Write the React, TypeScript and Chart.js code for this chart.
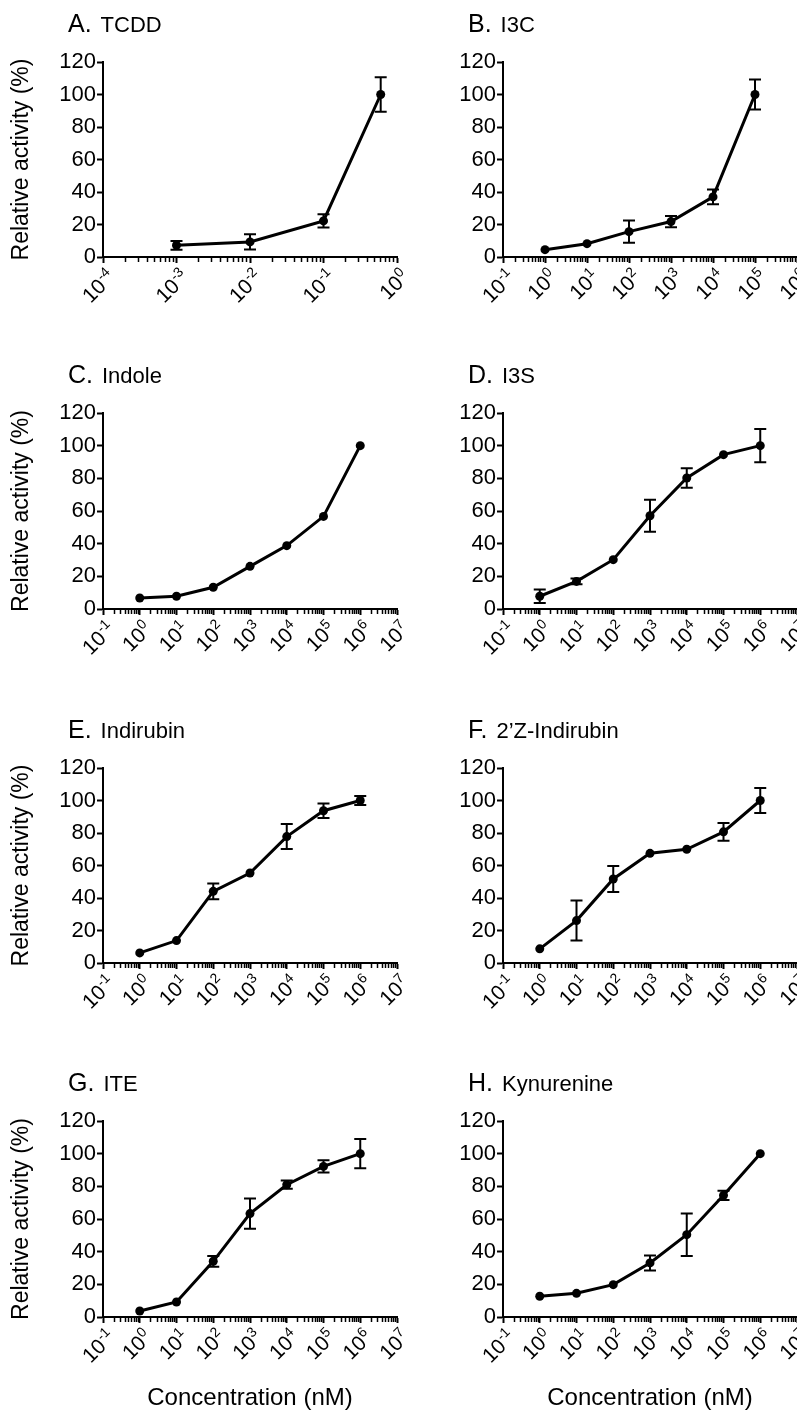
import React, { useEffect, useRef } from "react";
import { Chart, registerables } from "chart.js";

Chart.register(...registerables);

const FONT = '"Liberation Sans", Arial, Helvetica, sans-serif';

// ---------- data ----------
const concTCDD = [0.001, 0.01, 0.1, 0.6];
const valTCDD = [7.2, 9.3, 22.2, 100];
const errTCDD = [2.7, 4.7, 4.1, 10.6];

const concI3C = [1, 10, 100, 1000, 10000, 100000];
const valI3C = [4.5, 8.2, 15.6, 21.8, 37, 100];
const errI3C = [0, 0, 6.8, 3.5, 4.6, 9.2];

const concSeven = [1, 10, 100, 1000, 10000, 100000, 1000000];

const valIndole = [6.7, 7.8, 13.3, 26.1, 38.8, 56.7, 100];
const errIndole = [0, 0, 0, 0, 0, 0, 0];

const valI3S = [7.8, 16.9, 30.2, 57.1, 80.2, 94.5, 100];
const errI3S = [4.1, 1.8, 0, 9.8, 6, 0, 10.2];

const valIndirubin = [6.2, 13.8, 44.1, 55.4, 77.8, 93.7, 100];
const errIndirubin = [0, 0, 4.8, 0, 7.7, 4.5, 2.7];

const valZIndirubin = [8.7, 26.1, 51.7, 67.5, 70, 80.7, 100];
const errZIndirubin = [0, 12.3, 8, 0, 0, 5.5, 7.7];

const valITE = [3.7, 9.2, 34.1, 63.3, 81, 92.2, 100];
const errITE = [0, 0, 3.3, 9.2, 2.5, 3.8, 9];

const valKyn = [12.7, 14.5, 19.8, 33.1, 50.4, 74.5, 100];
const errKyn = [0, 0, 0, 4.6, 13, 2.8, 0];

const rangeTCDD = [1e-4, 1];
const rangeI3C = [1e-1, 1e6];
const rangeWide = [1e-1, 1e7];

const panelLetters = ["A.", "B.", "C.", "D.", "E.", "F.", "G.", "H."];
const panelNames = ["TCDD", "I3C", "Indole", "I3S", "Indirubin", "2\u2019Z-Indirubin", "ITE", "Kynurenine"];

const yMin = 0;
const yMax = 120;
const yStep = 20;
const yTitle = "Relative activity (%)";
const xTitle = "Concentration (nM)";
const xTickBase = "10";

// ---------- layout ----------
const plotTops = [62, 413, 768, 1121];
const plotBottoms = [257, 609, 963, 1317];
const PAGE_H = 1413;
const CANVAS_W = 423;
const PAD_TOP = 62;
const PAD_RIGHT = 26;
const Y_AXIS_W = 103;

function logTicks(min: number, max: number) {
  const out: { value: number; major: boolean }[] = [];
  const e0 = Math.round(Math.log10(min));
  const e1 = Math.round(Math.log10(max));
  for (let e = e0; e <= e1; e++) {
    for (let m = 1; m <= 9; m++) {
      if (e === e1 && m > 1) break;
      out.push({ value: m * Math.pow(10, e), major: m === 1 });
    }
  }
  return out;
}

type PanelCfg = {
  idx: number;
  conc: number[];
  vals: number[];
  errs: number[];
  range: number[];
};

const panels: PanelCfg[] = [
  { idx: 0, conc: concTCDD, vals: valTCDD, errs: errTCDD, range: rangeTCDD },
  { idx: 1, conc: concI3C, vals: valI3C, errs: errI3C, range: rangeI3C },
  { idx: 2, conc: concSeven, vals: valIndole, errs: errIndole, range: rangeWide },
  { idx: 3, conc: concSeven, vals: valI3S, errs: errI3S, range: rangeWide },
  { idx: 4, conc: concSeven, vals: valIndirubin, errs: errIndirubin, range: rangeWide },
  { idx: 5, conc: concSeven, vals: valZIndirubin, errs: errZIndirubin, range: rangeWide },
  { idx: 6, conc: concSeven, vals: valITE, errs: errITE, range: rangeWide },
  { idx: 7, conc: concSeven, vals: valKyn, errs: errKyn, range: rangeWide },
];

const errorBarPlugin = {
  id: "errorBars",
  afterDatasetsDraw(chart: any, _args: any, opts: any) {
    const { ctx } = chart;
    const xs = chart.scales.x;
    const ys = chart.scales.y;
    const conc: number[] = opts.conc;
    const vals: number[] = opts.vals;
    const errs: number[] = opts.errs;
    ctx.save();
    ctx.strokeStyle = "#000";
    ctx.lineWidth = 2;
    for (let i = 0; i < vals.length; i++) {
      if (!errs[i]) continue;
      const x = xs.getPixelForValue(conc[i]);
      const yt = ys.getPixelForValue(vals[i] + errs[i]);
      const yb = ys.getPixelForValue(vals[i] - errs[i]);
      ctx.beginPath();
      ctx.moveTo(x, yt);
      ctx.lineTo(x, yb);
      ctx.moveTo(x - 6, yt);
      ctx.lineTo(x + 6, yt);
      ctx.moveTo(x - 6, yb);
      ctx.lineTo(x + 6, yb);
      ctx.stroke();
    }
    ctx.restore();
  },
};

// decade labels "10" with a raised exponent, rotated 45 degrees, placed at the scale's tick pixels
const xLabelPlugin = {
  id: "xDecadeLabels",
  afterDraw(chart: any) {
    const xs = chart.scales.x;
    const ctx = chart.ctx;
    ctx.save();
    ctx.fillStyle = "#000";
    for (const t of xs.ticks) {
      if (!t.major) continue;
      const e = Math.round(Math.log10(t.value));
      const x = xs.getPixelForValue(t.value);
      ctx.save();
      ctx.translate(x, xs.top + 8);
      ctx.rotate(-Math.PI / 4);
      ctx.textBaseline = "alphabetic";
      ctx.textAlign = "right";
      const es = String(e);
      ctx.font = `14px ${FONT}`;
      ctx.fillText(es, 0, 11);
      const w2 = ctx.measureText(es).width;
      ctx.font = `21px ${FONT}`;
      ctx.fillText(xTickBase, -w2 - 0.5, 19);
      ctx.restore();
    }
    ctx.restore();
  },
};

const panelTitlePlugin = {
  id: "panelTitle",
  afterDraw(chart: any, _args: any, opts: any) {
    const { ctx, chartArea } = chart;
    ctx.save();
    ctx.fillStyle = "#000";
    ctx.textBaseline = "alphabetic";
    ctx.textAlign = "left";
    const x0 = chartArea.left - 35;
    const yb = chartArea.top - 30;
    ctx.font = `25px ${FONT}`;
    ctx.fillText(opts.letter, x0, yb);
    const w = ctx.measureText(opts.letter).width;
    ctx.font = `22px ${FONT}`;
    ctx.fillText(opts.name, x0 + w + 9, yb);
    ctx.restore();
  },
};

function Panel({ cfg }: { cfg: PanelCfg }) {
  const ref = useRef<HTMLCanvasElement>(null);
  const row = Math.floor(cfg.idx / 2);
  const col = cfg.idx % 2;
  const top = plotTops[row] - PAD_TOP;
  const plotH = plotBottoms[row] - plotTops[row];
  const height = row === 3 ? PAGE_H - top : plotBottoms[row] - top + 62;
  const xAxisH = height - PAD_TOP - plotH;

  useEffect(() => {
    const canvas = ref.current!;
    const chart = new Chart(canvas, {
      type: "line",
      data: {
        datasets: [
          {
            data: cfg.conc.map((c, i) => ({ x: c, y: cfg.vals[i] })),
            borderColor: "#000",
            backgroundColor: "#000",
            borderWidth: 3,
            pointRadius: 4.5,
            pointBorderWidth: 0,
            pointBackgroundColor: "#000",
            tension: 0,
            clip: false as any,
          },
        ],
      },
      options: {
        responsive: false,
        animation: false,
        devicePixelRatio: 1,
        layout: { padding: { top: PAD_TOP, left: 0, right: PAD_RIGHT, bottom: 0 } },
        plugins: {
          legend: { display: false },
          tooltip: { enabled: false },
          errorBars: { conc: cfg.conc, vals: cfg.vals, errs: cfg.errs },
          panelTitle: { letter: panelLetters[cfg.idx], name: panelNames[cfg.idx] },
        } as any,
        scales: {
          x: {
            type: "logarithmic",
            min: cfg.range[0],
            max: cfg.range[1],
            afterBuildTicks: (scale: any) => {
              scale.ticks = logTicks(cfg.range[0], cfg.range[1]);
            },
            afterFit: (scale: any) => {
              scale.height = xAxisH;
            },
            border: { display: true, color: "#000", width: 2 },
            grid: {
              display: true,
              drawOnChartArea: false,
              drawTicks: true,
              tickLength: 6,
              tickColor: "#000",
              tickWidth: (c: any) => (c.tick && c.tick.major ? 2 : 1.5),
              tickBorderDash: (c: any) => (c.tick && c.tick.major ? [] : [4, 40]),
            },
            ticks: {
              display: false,
              autoSkip: false,
            },
            title: {
              display: row === 3,
              text: xTitle,
              color: "#000",
              font: { family: FONT, size: 24 },
              padding: { top: 0, bottom: 0 },
            },
          },
          y: {
            type: "linear",
            min: yMin,
            max: yMax,
            afterFit: (scale: any) => {
              scale.width = Y_AXIS_W;
            },
            border: { display: true, color: "#000", width: 2 },
            grid: {
              display: true,
              drawOnChartArea: false,
              drawTicks: true,
              tickLength: 6,
              tickColor: "#000",
              tickWidth: 2,
            },
            ticks: {
              stepSize: yStep,
              padding: 1,
              color: "#000",
              font: { family: FONT, size: 22 },
            },
            title: {
              display: col === 0,
              text: yTitle,
              color: "#000",
              font: { family: FONT, size: 23 },
              padding: { top: 8, bottom: 0 },
            },
          },
        },
      } as any,
      plugins: [errorBarPlugin, xLabelPlugin, panelTitlePlugin],
    });
    return () => chart.destroy();
  }, []);

  return (
    <div style={{ position: "absolute", left: col * 400, top, width: CANVAS_W, height }}>
      <canvas ref={ref} width={CANVAS_W} height={height} style={{ display: "block", width: CANVAS_W, height }} />
    </div>
  );
}

export default function App() {
  return (
    <div
      style={{
        position: "absolute",
        left: 0,
        top: 0,
        width: 797,
        height: PAGE_H,
        overflow: "hidden",
        background: "#fff",
        fontFamily: FONT,
      }}
    >
      {panels.map((p) => (
        <Panel key={p.idx} cfg={p} />
      ))}
    </div>
  );
}
